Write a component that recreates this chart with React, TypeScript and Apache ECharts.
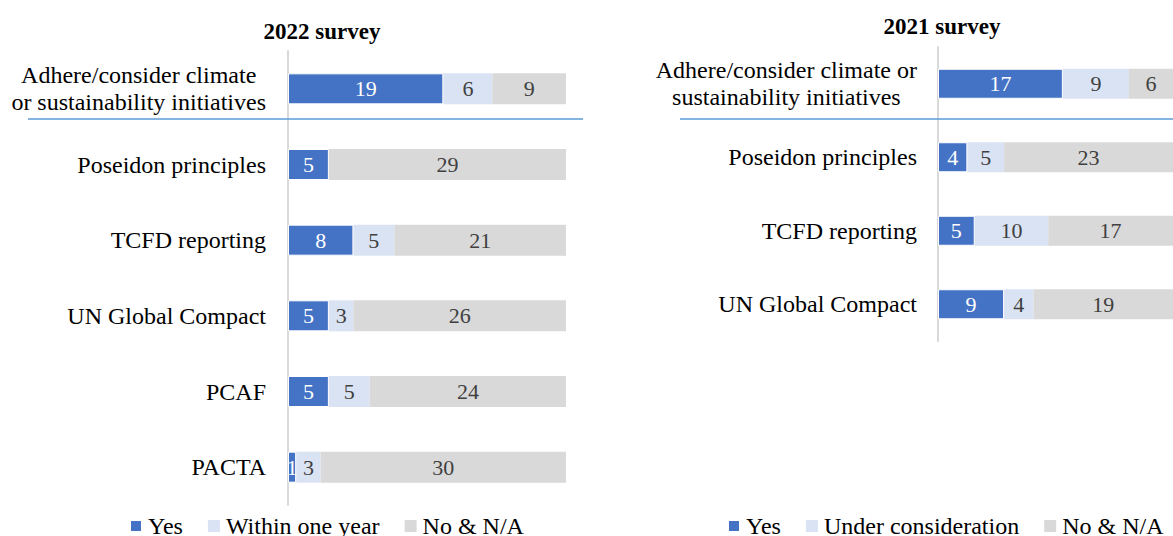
import React, { useEffect, useRef } from "react";
import * as echarts from "echarts";

const categories2022 = [
  "Adhere/consider climate\nor sustainability initiatives",
  "Poseidon principles",
  "TCFD reporting",
  "UN Global Compact",
  "PCAF",
  "PACTA",
];
const yes2022 = [19, 5, 8, 5, 5, 1];
const withinOneYear2022 = [6, 0, 5, 3, 5, 3];
const no2022 = [9, 29, 21, 26, 24, 30];

const categories2021 = [
  "Adhere/consider climate or\nsustainability initiatives",
  "Poseidon principles",
  "TCFD reporting",
  "UN Global Compact",
];
const yes2021 = [17, 4, 5, 9];
const underConsideration2021 = [9, 5, 10, 4];
const no2021 = [6, 23, 17, 19];

const legend2022 = ["Yes", "Within one year", "No & N/A"];
const legend2021 = ["Yes", "Under consideration", "No & N/A"];

const FONT = "'Liberation Serif', 'Times New Roman', serif";
const BLUE = "#4472C4";
const LIGHT = "#DAE3F3";
const GRAY = "#D9D9D9";

export default function App() {
  const ref = useRef<HTMLDivElement>(null);

  useEffect(() => {
    if (!ref.current) return;
    const chart = echarts.init(ref.current, undefined, { renderer: "svg" });

    const catLabel = {
      fontFamily: FONT,
      fontSize: 24,
      color: "#000",
      margin: 22,
      lineHeight: 27,
      formatter: (v: string) =>
        v.includes("\n")
          ? v
              .split("\n")
              .map((l) => `{c|${l}}`)
              .join("\n")
          : v,
      rich: {
        c: { align: "center", fontFamily: FONT, fontSize: 24, color: "#000", lineHeight: 27 },
      },
    };

    const yAxisBase = {
      type: "category",
      inverse: true,
      axisTick: { show: false },
      axisLine: { show: true, lineStyle: { color: "#D9D9D9", width: 2 } },
      splitLine: { show: false },
    };

    const hideZero = (p: any) => (p.value ? String(p.value) : "");

    const mkSeries = (
      name: string,
      data: number[],
      color: string,
      idx: number,
      labelColor: string,
      barWidth: number,
      stack: string
    ) => ({
      name,
      type: "bar",
      stack,
      xAxisIndex: idx,
      yAxisIndex: idx,
      data,
      barWidth,
      itemStyle: { color, borderColor: "#fff", borderWidth: color === BLUE ? 1 : 0 },
      label: {
        show: true,
        position: "inside",
        formatter: hideZero,
        fontFamily: FONT,
        fontSize: 22,
        color: labelColor,
      },
      emphasis: { disabled: true },
    });

    const legendBase = {
      top: 514,
      padding: 0,
      itemWidth: 12,
      itemHeight: 12,
      itemGap: 25,
      icon: "rect",
      selectedMode: false,
      textStyle: { fontFamily: FONT, fontSize: 24, color: "#000", padding: [0, 0, 0, 1] },
    };

    const option: any = {
      animation: false,
      backgroundColor: "#fff",
      grid: [
        { left: 288, top: 51, width: 278, height: 454, containLabel: false },
        { left: 938, top: 47, width: 241, height: 294, containLabel: false },
      ],
      xAxis: [
        { type: "value", gridIndex: 0, min: 0, max: 34, show: false },
        { type: "value", gridIndex: 1, min: 0, max: 32, show: false },
      ],
      yAxis: [
        { ...yAxisBase, gridIndex: 0, data: categories2022, axisLabel: catLabel },
        { ...yAxisBase, gridIndex: 1, data: categories2021, axisLabel: { ...catLabel, margin: 21 } },
      ],
      legend: [
        { ...legendBase, data: legend2022, left: 129 },
        { ...legendBase, data: legend2021, left: 727 },
      ],
      graphic: [
        {
          type: "text",
          x: 322,
          y: 31,
          style: {
            text: "2022 survey",
            align: "center",
            verticalAlign: "middle",
            font: `bold 23px ${FONT}`,
            fill: "#000",
          },
        },
        {
          type: "text",
          x: 942,
          y: 26,
          style: {
            text: "2021 survey",
            align: "center",
            verticalAlign: "middle",
            font: `bold 23px ${FONT}`,
            fill: "#000",
          },
        },
        {
          type: "line",
          shape: { x1: 28, y1: 119, x2: 583, y2: 119 },
          style: { stroke: "#5B9BD5", lineWidth: 1.5 },
          z: 10,
        },
        {
          type: "line",
          shape: { x1: 680, y1: 119, x2: 1173, y2: 119 },
          style: { stroke: "#5B9BD5", lineWidth: 1.5 },
          z: 10,
        },
      ],
      series: [
        mkSeries("Yes", yes2022, BLUE, 0, "#fff", 31, "a"),
        mkSeries("Within one year", withinOneYear2022, LIGHT, 0, "#404040", 31, "a"),
        mkSeries("No & N/A", no2022, GRAY, 0, "#404040", 31, "a"),
        mkSeries("Yes", yes2021, BLUE, 1, "#fff", 30, "b"),
        mkSeries("Under consideration", underConsideration2021, LIGHT, 1, "#404040", 30, "b"),
        mkSeries("No & N/A", no2021, GRAY, 1, "#404040", 30, "b"),
      ],
    };

    chart.setOption(option);
    return () => chart.dispose();
  }, []);

  return (
    <div
      ref={ref}
      style={{ position: "absolute", left: 0, top: 0, width: 1173, height: 536, overflow: "hidden" }}
    />
  );
}
